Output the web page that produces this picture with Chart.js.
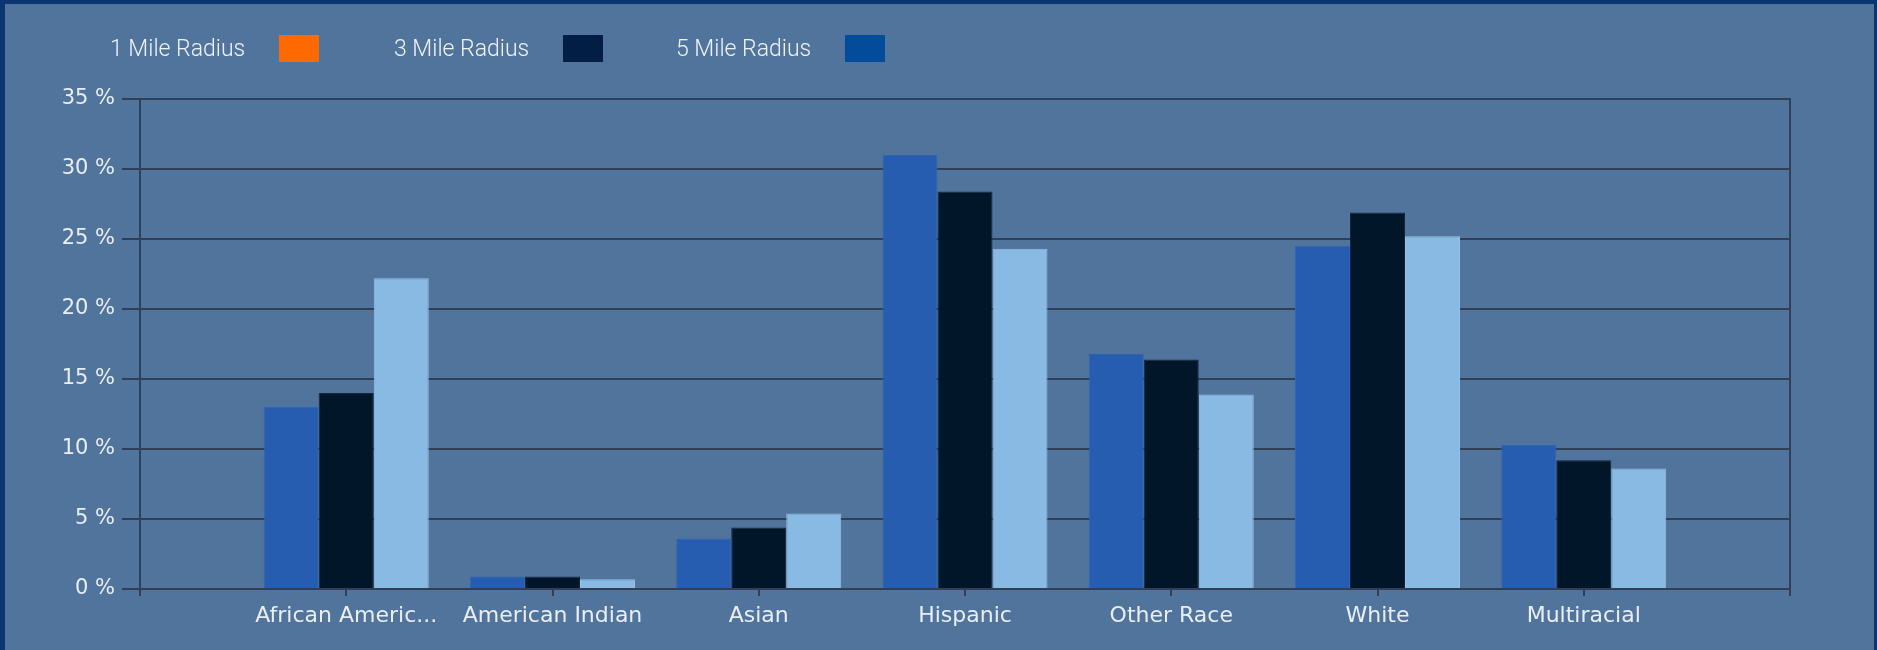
<!DOCTYPE html>
<html>
<head>
<meta charset="utf-8">
<script src="https://cdn.jsdelivr.net/npm/chart.js@4/dist/chart.umd.min.js"></script>
<style>
  html, body { margin: 0; padding: 0; }
  body { width: 1877px; height: 650px; overflow: hidden; }
  .frame { position: relative; width: 1877px; height: 650px; background: #51749d; }
  #chart { position: absolute; left: 0; top: 0; }
  .edge { position: absolute; background: #0b3570; }
  .legend-item { position: absolute; top: 35px; height: 27px; }
  .legend-text {
    position: absolute; top: 0; line-height: 27px; white-space: nowrap;
    font-family: Roboto, "Liberation Sans", sans-serif; font-size: 23px; font-weight: 300;
    color: #eef3f9;
  }
  .legend-box { position: absolute; top: 0; width: 40px; height: 27px; }
</style>
</head>
<body>
<div class="frame">
  <canvas id="chart" width="1877" height="650"></canvas>
  <div id="legend"></div>
  <div class="edge" style="left:0;top:0;width:1877px;height:4px"></div>
  <div class="edge" style="left:0;top:0;width:5px;height:650px"></div>
  <div class="edge" style="right:0;top:0;width:3px;height:650px"></div>
</div>
<script>
'use strict';

var categories = ['African American', 'American Indian', 'Asian', 'Hispanic', 'Other Race', 'White', 'Multiracial'];
var seriesNames = ['1 Mile Radius', '3 Mile Radius', '5 Mile Radius'];
var oneMile = [13.0, 0.9, 3.6, 31.0, 16.8, 24.5, 10.3];
var threeMile = [14.0, 0.9, 4.4, 28.4, 16.4, 26.9, 9.2];
var fiveMile = [22.2, 0.7, 5.4, 24.3, 13.9, 25.2, 8.6];
var yTicks = [0, 5, 10, 15, 20, 25, 30, 35];

var barColors = ['#265db0', '#011628', '#89bae3'];
var legendColors = ['#ff6a00', '#031e45', '#034c9c'];
var gridColor = '#313f56';
var textColor = '#e9eef6';

/* legend: text then swatch, drawn as plain html */
var legend = document.getElementById('legend');
var legendX = [110, 394, 676];
for (var i = 0; i < seriesNames.length; i++) {
  var item = document.createElement('div');
  item.className = 'legend-item';
  item.style.left = legendX[i] + 'px';
  item.innerHTML = '<span class="legend-text" style="left:0">' + seriesNames[i] + '</span>' +
    '<span class="legend-box" style="left:169px;background:' + legendColors[i] + '"></span>';
  legend.appendChild(item);
}

/* empty slot on each side of the category axis */
function pad(arr, fill) {
  return [fill].concat(arr, [fill]);
}

var ctx = document.getElementById('chart').getContext('2d');
var chart = new Chart(ctx, {
  type: 'bar',
  data: {
    labels: pad(categories, ''),
    datasets: [
      { label: seriesNames[0], data: pad(oneMile, null), backgroundColor: barColors[0], borderColor: '#2f66b6', borderWidth: 1 },
      { label: seriesNames[1], data: pad(threeMile, null), backgroundColor: barColors[1], borderColor: '#14263a', borderWidth: 1 },
      { label: seriesNames[2], data: pad(fiveMile, null), backgroundColor: barColors[2], borderColor: '#93c0e6', borderWidth: 1 }
    ]
  },
  options: {
    responsive: false,
    animation: false,
    layout: { padding: { top: 99, left: 0, right: 0, bottom: 0 } },
    datasets: { bar: { categoryPercentage: 0.8, barPercentage: 1.0 } },
    plugins: { legend: { display: false }, tooltip: { enabled: false } },
    scales: {
      x: {
        offset: false,
        grid: { offset: false, drawOnChartArea: false, color: gridColor, lineWidth: 2, tickLength: 7 },
        border: { color: gridColor, width: 2 },
        ticks: {
          color: textColor, padding: 7, maxRotation: 0, autoSkip: false,
          font: { family: '"DejaVu Sans", sans-serif', size: 22 },
          callback: function (v) {
            var s = this.getLabelForValue(v);
            return s.length > 15 ? s.slice(0, 14) + '...' : s;
          }
        },
        afterFit: function (scale) { scale.height = 61; }
      },
      y: {
        min: 0, max: 35,
        afterBuildTicks: function (scale) {
          scale.ticks = yTicks.map(function (v) { return { value: v }; });
        },
        grid: { color: gridColor, lineWidth: 2, tickLength: 18 },
        border: { color: gridColor, width: 2 },
        ticks: {
          color: textColor, padding: 7,
          font: { family: '"DejaVu Sans", sans-serif', size: 21 },
          callback: function (v) { return v + ' %'; }
        },
        afterFit: function (scale) { scale.width = 140; }
      },
      yRight: {
        position: 'right',
        min: 0, max: 35,
        grid: { display: false },
        ticks: { display: false },
        border: { color: gridColor, width: 2 },
        afterFit: function (scale) { scale.width = 87; }
      }
    }
  }
});
</script>
</body>
</html>
